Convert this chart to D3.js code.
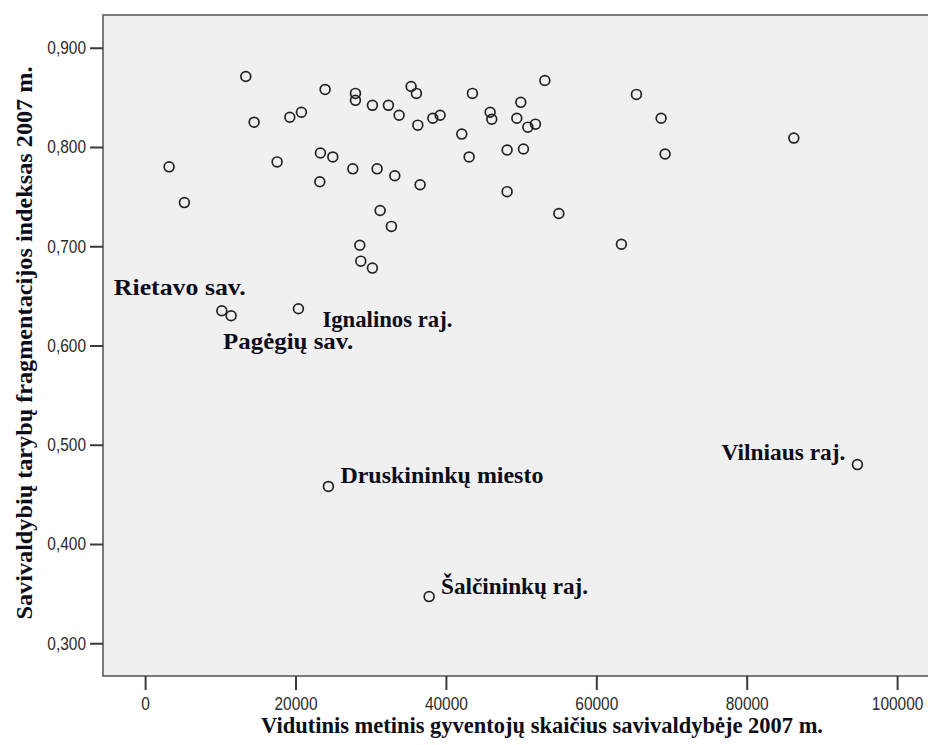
<!DOCTYPE html>
<html>
<head>
<meta charset="utf-8">
<script src="https://cdn.jsdelivr.net/npm/d3@7"></script>
<style>
  html, body { margin: 0; padding: 0; background: #ffffff; }
  svg { display: block; }
</style>
</head>
<body>
<svg id="chart" width="928" height="745"></svg>
<script>
// Average population of each municipality in 2007
const population = [
  13390, 3191, 5226, 14495, 17553, 19242, 20785, 23936, 23311, 24960,
  23231, 27970, 27970, 27620, 30226, 32354, 33777, 30851, 33204, 31250,
  32753, 28550, 28683, 30226, 35372, 36077, 36263, 36569, 38258, 39229,
  43524, 42110, 43085, 45878, 46100, 48138, 48138, 49428, 49960, 50310,
  50895, 51906, 53156, 55017, 63337, 65337, 68617, 69149, 86263,
  10200, 11436, 20386, 24375, 37766, 94720
];

// Council fragmentation index of each municipality in 2007
const fragmentation = [
  0.871, 0.780, 0.744, 0.825, 0.785, 0.830, 0.835, 0.858, 0.794, 0.790,
  0.765, 0.854, 0.847, 0.778, 0.842, 0.842, 0.832, 0.778, 0.771, 0.736,
  0.720, 0.701, 0.685, 0.678, 0.861, 0.854, 0.822, 0.762, 0.829, 0.832,
  0.854, 0.813, 0.790, 0.835, 0.828, 0.797, 0.755, 0.829, 0.845, 0.798,
  0.820, 0.823, 0.867, 0.733, 0.702, 0.853, 0.829, 0.793, 0.809,
  0.635, 0.630, 0.637, 0.458, 0.347, 0.480
];

// Names shown next to the outlying municipalities (index into the arrays above)
const labelIndex = [49, 50, 51, 52, 53, 54];
const labelNames = ["Rietavo sav.", "Pagėgių sav.", "Ignalinos raj.",
                    "Druskininkų miesto", "Šalčininkų raj.", "Vilniaus raj."];

const xTicks = [0, 20000, 40000, 60000, 80000, 100000];
const yTicks = [0.3, 0.4, 0.5, 0.6, 0.7, 0.8, 0.9];

const xTitle = "Vidutinis metinis gyventojų skaičius savivaldybėje 2007 m.";
const yTitle = "Savivaldybių tarybų fragmentacijos indeksas 2007 m.";

// ---- layout ----
const svg = d3.select("#chart");
const plotLeft = 103, plotTop = 15, plotBottom = 676;
const pxPerUnit = 752 / 100000;
const xMin = -5600, xMax = 112000;

const x = d3.scaleLinear()
  .domain([xMin, xMax])
  .range([plotLeft, plotLeft + (xMax - xMin) * pxPerUnit]);
const y = d3.scaleLinear()
  .domain([0.267, 0.933])
  .range([plotBottom, plotTop]);

const plotRight = x(xMax);

// plot background and frame
svg.append("rect")
  .attr("x", plotLeft).attr("y", plotTop)
  .attr("width", plotRight - plotLeft).attr("height", plotBottom - plotTop)
  .attr("fill", "#f0f0f0")
  .attr("stroke", "#5a5a5a")
  .attr("stroke-width", 1.6);

// axes (tick digits are drawn slightly condensed)
const tickSqueeze = 0.86;
const fmtY = v => d3.format(".3f")(v).replace(".", ",");
const yAxis = d3.axisLeft(y).tickValues(yTicks).tickFormat(fmtY)
  .tickSizeInner(13).tickSizeOuter(0).tickPadding(4);
const xAxis = d3.axisBottom(x).tickValues(xTicks).tickFormat(d3.format("d"))
  .tickSizeInner(14).tickSizeOuter(0).tickPadding(7);

const gy = svg.append("g").attr("transform", `translate(${plotLeft},0)`).call(yAxis);
const gx = svg.append("g").attr("transform", `translate(0,${plotBottom})`).call(xAxis);
[gx, gy].forEach(g => {
  g.select(".domain").remove();
  g.selectAll(".tick line").attr("stroke", "#3a3a3a").attr("stroke-width", 2);
  g.selectAll(".tick text")
    .attr("fill", "#2a2a2a")
    .style("font-family", "'Liberation Sans', Arial, sans-serif")
    .style("font-size", "18px");
});
gx.selectAll(".tick text").attr("transform", `scale(${tickSqueeze},1)`);
gy.selectAll(".tick text")
  .attr("x", -17 / tickSqueeze)
  .attr("transform", `scale(${tickSqueeze},1)`);

// points
svg.append("g")
  .selectAll("circle")
  .data(population.map((p, i) => [p, fragmentation[i]]))
  .join("circle")
  .attr("cx", d => x(d[0]))
  .attr("cy", d => y(d[1]))
  .attr("r", 4.9)
  .attr("fill", "none")
  .attr("stroke", "#222")
  .attr("stroke-width", 1.7);

// point labels: offsets from the point, anchor and drawn width
const labelStyle = [
  { dx: -108, dy: -16, anchor: "start", w: 132 },
  { dx: -8,   dy: 33,  anchor: "start", w: 130 },
  { dx: 24,   dy: 18,  anchor: "start", w: 130 },
  { dx: 12,   dy: -3,  anchor: "start", w: 203 },
  { dx: 12,   dy: -3,  anchor: "start", w: 147 },
  { dx: -12,  dy: -5,  anchor: "end",   w: 124 }
];
const serif = "'Liberation Serif', 'Times New Roman', serif";

svg.append("g")
  .selectAll("text")
  .data(labelIndex)
  .join("text")
  .attr("x", (d, i) => x(population[d]) + labelStyle[i].dx)
  .attr("y", (d, i) => y(fragmentation[d]) + labelStyle[i].dy)
  .attr("text-anchor", (d, i) => labelStyle[i].anchor)
  .attr("textLength", (d, i) => labelStyle[i].w)
  .attr("lengthAdjust", "spacingAndGlyphs")
  .style("font-family", serif)
  .style("font-weight", "bold")
  .style("font-size", "22.5px")
  .attr("fill", "#0d0d1a")
  .text((d, i) => labelNames[i]);

// axis titles
svg.append("text")
  .attr("x", 542).attr("y", 733)
  .attr("text-anchor", "middle")
  .attr("textLength", 562)
  .attr("lengthAdjust", "spacingAndGlyphs")
  .style("font-family", serif)
  .style("font-weight", "bold")
  .style("font-size", "22.5px")
  .attr("fill", "#0d0d1a")
  .text(xTitle);

svg.append("text")
  .attr("transform", "translate(32,343) rotate(-90)")
  .attr("text-anchor", "middle")
  .attr("textLength", 553)
  .attr("lengthAdjust", "spacingAndGlyphs")
  .style("font-family", serif)
  .style("font-weight", "bold")
  .style("font-size", "22.5px")
  .attr("fill", "#0d0d1a")
  .text(yTitle);
</script>
</body>
</html>
